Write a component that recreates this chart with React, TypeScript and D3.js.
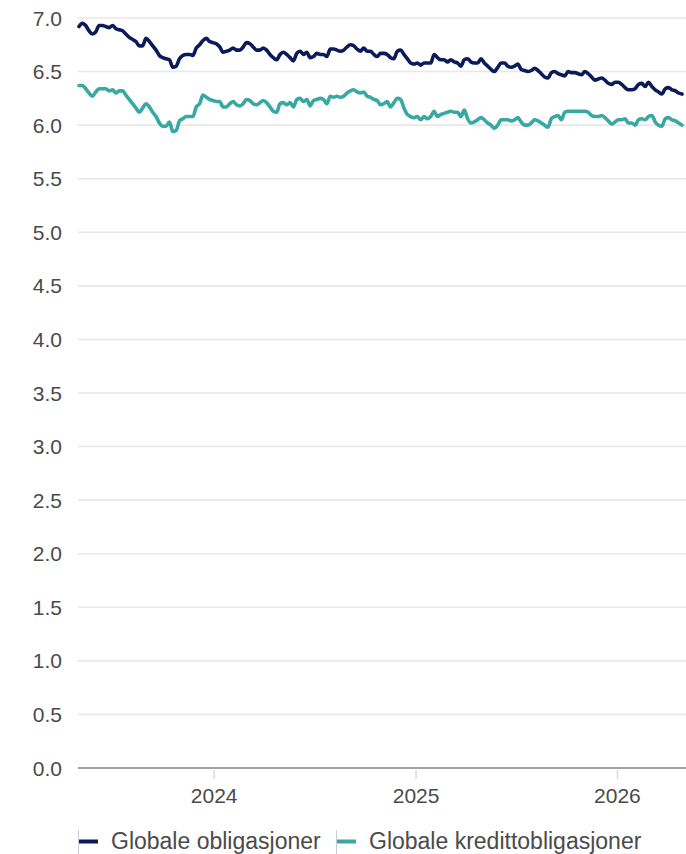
import { line, scaleLinear, scaleTime, timeYear, curveMonotoneX } from "d3";
import type { ReactElement } from "react";

const START = new Date(2023, 4, 1);
const END = new Date(2026, 3, 28);

const globaleObligasjoner = [
  6.92, 6.95, 6.93, 6.88, 6.85, 6.87, 6.93, 6.93, 6.92, 6.91, 6.93, 6.9, 6.89, 6.88, 6.85,
  6.82, 6.8, 6.78, 6.74, 6.74, 6.81, 6.78, 6.74, 6.7, 6.65, 6.63, 6.62, 6.61, 6.54, 6.55,
  6.62, 6.65, 6.66, 6.66, 6.65, 6.72, 6.75, 6.79, 6.81, 6.78, 6.77, 6.76, 6.73,
  6.68, 6.69, 6.7, 6.72, 6.7, 6.7, 6.73, 6.77, 6.76, 6.73, 6.7, 6.7, 6.72, 6.7, 6.66,
  6.63, 6.61, 6.66, 6.68, 6.66, 6.63, 6.6, 6.67, 6.69, 6.66, 6.68, 6.63, 6.64, 6.67, 6.66,
  6.66, 6.64, 6.71, 6.71, 6.7, 6.69, 6.7, 6.73, 6.75, 6.74, 6.71, 6.69, 6.72, 6.69, 6.69,
  6.66, 6.64, 6.67, 6.67, 6.66, 6.63, 6.62, 6.69, 6.7, 6.66, 6.62, 6.58, 6.57, 6.58, 6.56,
  6.58, 6.58, 6.58, 6.66, 6.63, 6.61, 6.61, 6.59, 6.61, 6.59, 6.58, 6.55, 6.61, 6.62, 6.59,
  6.58, 6.58, 6.62, 6.58, 6.55, 6.52, 6.5, 6.54, 6.58, 6.58, 6.55, 6.54, 6.55, 6.57, 6.52,
  6.51, 6.5, 6.51, 6.53, 6.51, 6.48, 6.45, 6.44, 6.49, 6.5, 6.48, 6.47, 6.46, 6.5, 6.49,
  6.49, 6.48, 6.47, 6.5, 6.48, 6.45, 6.42, 6.43, 6.44, 6.42, 6.39, 6.38, 6.4, 6.4, 6.38,
  6.35, 6.33, 6.33, 6.34, 6.38, 6.39, 6.36, 6.4, 6.36, 6.33, 6.31, 6.29, 6.34, 6.35, 6.33,
  6.32, 6.3, 6.29,
];

const globaleKredittobligasjoner = [
  6.37, 6.37, 6.34, 6.3, 6.27, 6.31, 6.34, 6.34, 6.34, 6.32, 6.33, 6.3, 6.32, 6.32, 6.28,
  6.24, 6.2, 6.16, 6.12, 6.16, 6.2, 6.17, 6.12, 6.08, 6.02, 5.99, 5.99, 6.03, 5.94, 5.95,
  6.04, 6.06, 6.08, 6.08, 6.08, 6.17, 6.2, 6.28, 6.26, 6.24, 6.23, 6.22, 6.22,
  6.17, 6.17, 6.2, 6.22, 6.19, 6.18, 6.2, 6.24, 6.23, 6.2, 6.19, 6.21, 6.23, 6.21, 6.17,
  6.13, 6.12, 6.2, 6.21, 6.19, 6.21, 6.17, 6.24, 6.25, 6.22, 6.24, 6.18, 6.23, 6.24, 6.25,
  6.24, 6.2, 6.27, 6.26, 6.27, 6.26, 6.27, 6.3, 6.32, 6.33, 6.31, 6.3, 6.31, 6.27, 6.26,
  6.24, 6.23, 6.19, 6.2, 6.22, 6.17, 6.21, 6.25, 6.24, 6.16, 6.1, 6.08, 6.07, 6.08, 6.05,
  6.08, 6.06, 6.08, 6.13, 6.08, 6.1, 6.11, 6.12, 6.13, 6.12, 6.12, 6.08, 6.14, 6.06, 6.02,
  6.03, 6.05, 6.07, 6.05, 6.02, 6.0, 5.97, 6.0, 6.05, 6.05, 6.05, 6.04, 6.05, 6.07, 6.03,
  6.0, 6.0, 6.02, 6.05, 6.04, 6.02, 6.0, 5.98, 6.06, 6.08, 6.09, 6.05, 6.12, 6.13, 6.13,
  6.13, 6.13, 6.13, 6.13, 6.12, 6.09, 6.08, 6.08, 6.09, 6.07, 6.04, 6.01, 6.03, 6.05, 6.05,
  6.06, 6.02, 6.02, 6.0, 6.05, 6.06, 6.05, 6.08, 6.09, 6.03, 6.0, 5.99, 6.06, 6.07, 6.05,
  6.04, 6.02, 6.0,
];

const yTicks = [0, 0.5, 1, 1.5, 2, 2.5, 3, 3.5, 4, 4.5, 5, 5.5, 6, 6.5, 7];

const series = [
  { name: "Globale obligasjoner", values: globaleObligasjoner, color: "#0b1b5a" },
  { name: "Globale kredittobligasjoner", values: globaleKredittobligasjoner, color: "#38a8a3" },
];

const WIDTH = 686;
const HEIGHT = 854;
const PLOT_LEFT = 78;
const FONT = "'Liberation Sans', Arial, sans-serif";
const TEXT_COLOR = "#4a4a4a";

export default function App(): ReactElement {
  const x = scaleTime().domain([START, END]).range([79, 682]);
  const y = scaleLinear().domain([0, 7]).range([768, 18]);

  const span = END.getTime() - START.getTime();
  const dateAt = (i: number, n: number): Date =>
    new Date(START.getTime() + (span * i) / (n - 1));

  const path = line<number>()
    .x((_, i, arr) => x(dateAt(i, (arr as number[]).length)))
    .y((d) => y(d))
    .curve(curveMonotoneX);

  const yearTicks = timeYear.range(START, END).filter((d) => d > START);

  const legendX = [78, 336];

  return (
    <svg
      width={WIDTH}
      height={HEIGHT}
      style={{ position: "absolute", left: 0, top: 0 }}
      fontFamily={FONT}
    >
      {/* grid */}
      {yTicks.map((t) => (
        <g key={t}>
          {t > 0 && (
            <line x1={PLOT_LEFT} x2={WIDTH} y1={y(t)} y2={y(t)} stroke="#e8e8e8" strokeWidth={1.6} />
          )}
          <text
            x={62}
            y={y(t)}
            dy="0.36em"
            textAnchor="end"
            fontSize={21}
            fill={TEXT_COLOR}
          >
            {t.toFixed(1)}
          </text>
        </g>
      ))}

      {/* x axis */}
      {yearTicks.map((d) => (
        <g key={d.getFullYear()}>
          <line x1={x(d)} x2={x(d)} y1={770} y2={779} stroke="#dcdcdc" strokeWidth={1.5} />
          <text x={x(d)} y={803} textAnchor="middle" fontSize={21} fill={TEXT_COLOR}>
            {d.getFullYear()}
          </text>
        </g>
      ))}
      <line x1={PLOT_LEFT} x2={WIDTH} y1={y(0)} y2={y(0)} stroke="#a3a3a3" strokeWidth={2} />

      {/* lines */}
      {series.map((s) => (
        <path
          key={s.name}
          d={path(s.values) ?? ""}
          fill="none"
          stroke={s.color}
          strokeWidth={3.6}
          strokeLinejoin="round"
          strokeLinecap="round"
        />
      ))}

      {/* legend */}
      {series.map((s, i) => (
        <g key={s.name} transform={`translate(${legendX[i]},0)`}>
          <line x1={0.5} x2={0.5} y1={830} y2={854} stroke="#c9cdd8" strokeWidth={1} />
          <line x1={1} x2={20} y1={841.5} y2={841.5} stroke={s.color} strokeWidth={4} />
          <text x={33} y={848.5} fontSize={23} fill={TEXT_COLOR}>
            {s.name}
          </text>
        </g>
      ))}
    </svg>
  );
}
